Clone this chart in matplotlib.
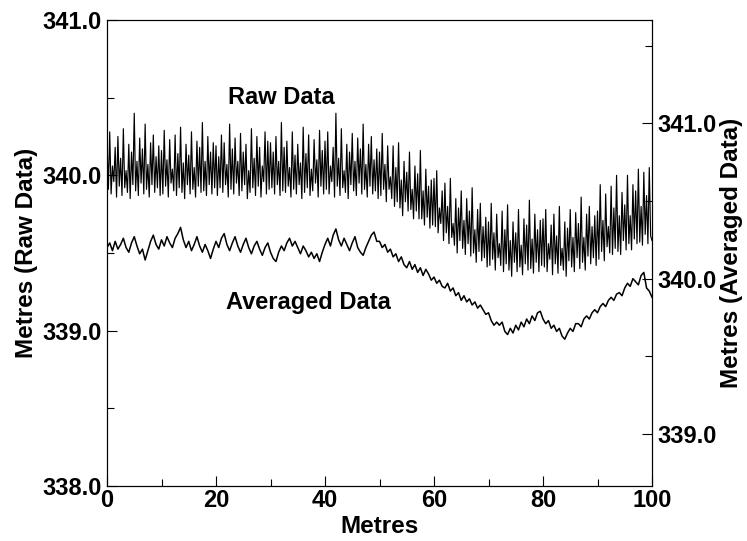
import matplotlib
matplotlib.use('Agg')
import matplotlib.pyplot as plt
import numpy as np
from matplotlib.ticker import MultipleLocator, FormatStrFormatter, FixedLocator

# Raw data (left axis), sampled every 0.25 m
raw_step = 0.25
raw_values = [
    # 0 - 9.75
    340.22, 339.91, 340.28, 339.88, 340.06, 339.96, 340.18, 339.86, 340.25, 339.93,
    340.11, 339.87, 340.30, 339.92, 340.03, 339.89, 340.20, 339.85, 340.15, 339.94,
    340.40, 339.90, 340.09, 339.87, 340.24, 339.95, 340.17, 339.88, 340.33, 339.91,
    340.07, 339.86, 340.21, 339.94, 340.26, 339.89, 340.12, 339.92, 340.19, 339.87,
    # 10 - 19.75
    340.16, 339.88, 340.29, 339.93, 340.10, 339.86, 340.23, 339.95, 340.04, 339.90,
    340.26, 339.87, 340.14, 339.92, 340.31, 339.89, 340.08, 339.85, 340.20, 339.94,
    340.13, 339.88, 340.28, 339.91, 340.05, 339.86, 340.22, 339.93, 340.18, 339.89,
    340.34, 339.90, 340.09, 339.87, 340.25, 339.94, 340.15, 339.88, 340.21, 339.92,
    # 20 - 29.75
    340.19, 339.87, 340.12, 339.92, 340.26, 339.89, 340.21, 339.94, 340.07, 339.86,
    340.33, 339.91, 340.17, 339.88, 340.24, 339.95, 340.09, 339.87, 340.27, 339.90,
    340.15, 339.94, 340.20, 339.85, 340.03, 339.89, 340.30, 339.92, 340.11, 339.87,
    340.25, 339.93, 340.18, 339.86, 340.06, 339.96, 340.28, 339.88, 340.22, 339.91,
    # 30 - 39.75
    340.21, 339.92, 340.15, 339.88, 340.25, 339.94, 340.09, 339.87, 340.34, 339.90,
    340.18, 339.89, 340.22, 339.93, 340.05, 339.86, 340.28, 339.91, 340.13, 339.88,
    340.20, 339.94, 340.08, 339.85, 340.31, 339.89, 340.14, 339.92, 340.26, 339.87,
    340.04, 339.90, 340.23, 339.95, 340.10, 339.86, 340.29, 339.93, 340.16, 339.88,
    # 40 - 49.75
    340.22, 339.91, 340.28, 339.88, 340.06, 339.96, 340.18, 339.86, 340.40, 339.93,
    340.11, 339.87, 340.30, 339.92, 340.03, 339.89, 340.20, 339.85, 340.15, 339.94,
    340.27, 339.90, 340.09, 339.87, 340.24, 339.95, 340.17, 339.88, 340.33, 339.91,
    340.07, 339.86, 340.20, 339.93, 340.25, 339.88, 340.10, 339.90, 340.17, 339.85,
    # 50 - 59.75
    340.15, 339.87, 340.27, 339.91, 340.07, 339.83, 340.19, 339.91, 339.99, 339.85,
    340.19, 339.80, 340.05, 339.83, 340.21, 339.79, 339.97, 339.74, 340.09, 339.83,
    340.02, 339.77, 340.15, 339.78, 339.91, 339.72, 340.06, 339.77, 340.01, 339.72,
    340.16, 339.72, 339.90, 339.68, 340.04, 339.73, 339.93, 339.66, 339.97, 339.68,
    # 60 - 69.75
    339.98, 339.67, 340.03, 339.63, 339.79, 339.69, 339.90, 339.58, 339.95, 339.63,
    339.80, 339.56, 339.98, 339.60, 339.69, 339.55, 339.85, 339.50, 339.79, 339.58,
    339.90, 339.53, 339.71, 339.49, 339.85, 339.56, 339.77, 339.48, 339.92, 339.50,
    339.65, 339.44, 339.78, 339.51, 339.82, 339.45, 339.67, 339.47, 339.73, 339.41,
    # 70 - 79.75
    339.70, 339.42, 339.82, 339.46, 339.63, 339.39, 339.75, 339.47, 339.56, 339.42,
    339.77, 339.38, 339.65, 339.43, 339.81, 339.39, 339.58, 339.35, 339.70, 339.44,
    339.63, 339.38, 339.78, 339.41, 339.55, 339.36, 339.72, 339.43, 339.68, 339.39,
    339.84, 339.40, 339.59, 339.37, 339.75, 339.44, 339.65, 339.38, 339.71, 339.42,
    # 80 - 89.75
    339.72, 339.41, 339.78, 339.38, 339.56, 339.46, 339.68, 339.36, 339.75, 339.43,
    339.61, 339.37, 339.80, 339.42, 339.53, 339.39, 339.70, 339.35, 339.66, 339.45,
    339.78, 339.41, 339.60, 339.38, 339.76, 339.47, 339.69, 339.40, 339.86, 339.44,
    339.60, 339.39, 339.75, 339.48, 339.80, 339.43, 339.67, 339.47, 339.74, 339.42,
    # 90 - 100
    339.77, 339.46, 339.94, 339.51, 339.71, 339.45, 339.88, 339.54, 339.67, 339.50,
    339.93, 339.49, 339.79, 339.53, 340.00, 339.51, 339.74, 339.49, 339.89, 339.58,
    339.81, 339.52, 340.00, 339.56, 339.74, 339.52, 339.94, 339.59, 339.90, 339.56,
    340.04, 339.57, 339.80, 339.55, 340.02, 339.62, 339.87, 339.56, 340.05, 339.61,
    339.58,
]

# Averaged data (right axis), sampled every 0.5 m
avg_step = 0.5
avg_values = [
    340.20, 340.23, 340.18, 340.24, 340.19, 340.22, 340.26, 340.20, 340.17, 340.23,
    340.27, 340.21, 340.16, 340.19, 340.12, 340.18, 340.24, 340.28, 340.22, 340.19,
    340.25, 340.21, 340.27, 340.23, 340.20, 340.26, 340.29, 340.33, 340.25, 340.20,
    340.24, 340.18, 340.22, 340.27, 340.21, 340.17, 340.22, 340.18, 340.13, 340.19,
    340.24, 340.20, 340.26, 340.29, 340.22, 340.18, 340.23, 340.27, 340.21, 340.17,
    340.22, 340.26, 340.20, 340.16, 340.21, 340.24, 340.19, 340.15, 340.20, 340.23,
    340.17, 340.13, 340.11, 340.17, 340.21, 340.18, 340.23, 340.26, 340.21, 340.24,
    340.20, 340.16, 340.21, 340.18, 340.14, 340.17, 340.13, 340.16, 340.11, 340.17,
    340.22, 340.26, 340.21, 340.28, 340.32, 340.25, 340.21, 340.26, 340.22, 340.18,
    340.23, 340.27, 340.20, 340.17, 340.15, 340.20, 340.24, 340.28, 340.30, 340.24,
    340.24, 340.20, 340.22, 340.17, 340.19, 340.14, 340.16, 340.11, 340.14, 340.09,
    340.07, 340.11, 340.06, 340.09, 340.04, 340.07, 340.02, 340.06, 340.03, 339.99,
    340.01, 339.97, 339.99, 339.95, 339.94, 339.97, 339.92, 339.94, 339.89, 339.91,
    339.86, 339.89, 339.85, 339.87, 339.83, 339.85, 339.81, 339.83, 339.80, 339.77,
    339.78, 339.73, 339.70, 339.72, 339.70, 339.72, 339.66, 339.64, 339.68, 339.65,
    339.70, 339.67, 339.72, 339.69, 339.74, 339.71, 339.76, 339.73, 339.78, 339.79,
    339.74, 339.71, 339.73, 339.68, 339.70, 339.66, 339.68, 339.63, 339.61, 339.65,
    339.68, 339.66, 339.71, 339.71, 339.69, 339.74, 339.76, 339.74, 339.78, 339.80,
    339.78, 339.82, 339.84, 339.82, 339.86, 339.88, 339.86, 339.90, 339.91, 339.89,
    339.94, 339.97, 339.95, 340.00, 339.98, 339.96, 340.02, 340.04, 339.94, 339.92,
    339.88,
]

x_ticks = [0, 20, 40, 60, 80, 100]
left_ticks = [338.0, 339.0, 340.0, 341.0]
right_ticks = [339.0, 340.0, 341.0]

raw_x = np.arange(len(raw_values)) * raw_step
avg_x = np.arange(len(avg_values)) * avg_step

plt.rcParams['font.family'] = ['Liberation Sans', 'DejaVu Sans']
plt.rcParams['font.weight'] = 'bold'
plt.rcParams['axes.labelweight'] = 'bold'

FS_TICK = 17
FS_LAB = 17.5
W, H = 747, 541
left, right, top, bottom = 107, 652, 20, 486
fig = plt.figure(figsize=(W/100, H/100), dpi=100)
ax = fig.add_axes([left/W, 1-bottom/H, (right-left)/W, (bottom-top)/H])
ax.plot(raw_x, raw_values, color='black', lw=0.85)
ax.set_xlim(0, 100)
ax.set_ylim(338, 341)

ax2 = ax.twinx()
ax2.plot(avg_x, avg_values, color='black', lw=1.1)
ax2.set_ylim(338.665, 341.665)

ax.xaxis.set_major_locator(FixedLocator(x_ticks))
ax.xaxis.set_minor_locator(MultipleLocator(10))
ax.yaxis.set_major_locator(FixedLocator(left_ticks))
ax.yaxis.set_minor_locator(MultipleLocator(0.5))
ax.yaxis.set_major_formatter(FormatStrFormatter('%.1f'))
ax2.yaxis.set_major_locator(FixedLocator(right_ticks))
ax2.yaxis.set_minor_locator(MultipleLocator(0.5))
ax2.yaxis.set_major_formatter(FormatStrFormatter('%.1f'))

for a in (ax, ax2):
    a.tick_params(which='major', direction='in', length=7, width=0.8, labelsize=FS_TICK, pad=4)
    a.tick_params(which='minor', direction='in', length=5, width=0.8)
    for s in a.spines.values():
        s.set_linewidth(0.8)
ax.tick_params(top=False, which='both')
ax.tick_params(axis='x', pad=2)
for lbl in ax.get_xticklabels() + ax.get_yticklabels() + ax2.get_yticklabels():
    lbl.set_fontweight('bold')

ax.set_xlabel('Metres', fontsize=FS_LAB, fontweight='bold', labelpad=2)
ax.set_ylabel('Metres (Raw Data)', fontsize=FS_LAB, fontweight='bold', labelpad=3)
ax2.set_ylabel('Metres (Averaged Data)', fontsize=FS_LAB, fontweight='bold', labelpad=2)

ax.text(32, 340.5, 'Raw Data', ha='center', va='center', fontsize=17, fontweight='bold')
ax.text(37, 339.18, 'Averaged Data', ha='center', va='center', fontsize=17, fontweight='bold')

fig.savefig('out.png', dpi=100)
